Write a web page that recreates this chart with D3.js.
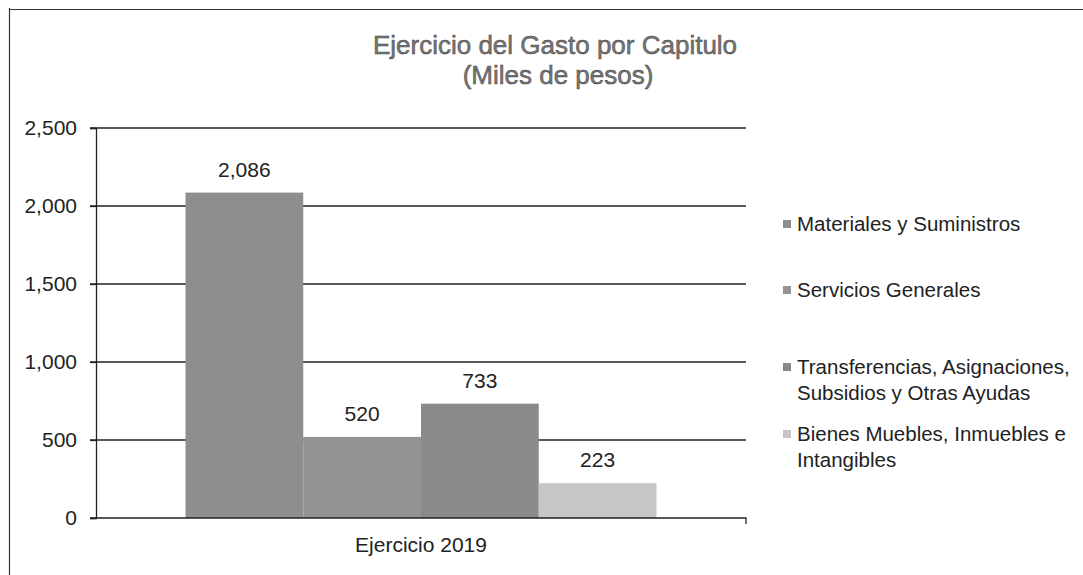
<!DOCTYPE html>
<html>
<head>
<meta charset="utf-8">
<script src="https://cdn.jsdelivr.net/npm/d3@7"></script>
<style>
  body { margin: 0; background: #fff; }
  text { font-family: "Liberation Sans", Arial, sans-serif; }
</style>
</head>
<body>
<svg id="chart" width="1083" height="575"></svg>
<script>
const categories = ["Ejercicio 2019"];
const seriesNames = [
  "Materiales y Suministros",
  "Servicios Generales",
  "Transferencias, Asignaciones, Subsidios y Otras Ayudas",
  "Bienes Muebles, Inmuebles e Intangibles"
];
const seriesValues = [2086, 520, 733, 223];
const legendLines = [
  ["Materiales y Suministros"],
  ["Servicios Generales"],
  ["Transferencias, Asignaciones,", "Subsidios y Otras Ayudas"],
  ["Bienes Muebles, Inmuebles e", "Intangibles"]
];
const yTicks = [0, 500, 1000, 1500, 2000, 2500];
const seriesColors = ["#8e8e8e", "#939393", "#8a8a8a", "#c6c6c6"];

function drawChart() {
  let svg = d3.select("#chart");
  let font = "Liberation Sans, Arial, sans-serif";

  // frame of the scanned page
  svg.append("line").attr("x1", 10).attr("x2", 1083).attr("y1", 9.5).attr("y2", 9.5)
    .style("stroke", "#333").style("stroke-width", 1.2);
  svg.append("line").attr("x1", 9.5).attr("x2", 9.5).attr("y1", 8).attr("y2", 575)
    .style("stroke", "#333").style("stroke-width", 1.2);

  // title
  let title = svg.append("text").attr("text-anchor", "middle")
    .style("font-size", "26px").style("fill", "#777")
    .style("stroke", "#444").style("stroke-width", 0.5);
  title.append("tspan").attr("x", 555).attr("y", 54).text("Ejercicio del Gasto por Capitulo");
  title.append("tspan").attr("x", 558).attr("y", 84).text("(Miles de pesos)");

  let left = 96, right = 746, top = 128, bottom = 518;

  let y = d3.scaleLinear().domain([0, 2500]).range([bottom, top]);
  let x0 = d3.scaleBand().domain(categories).range([left, right])
    .paddingInner(0).paddingOuter(0.19);
  let x1 = d3.scaleBand().domain(seriesNames).range([0, x0.bandwidth()]).padding(0);

  // gridlines
  svg.append("g").selectAll("line").data(yTicks.filter((d) => d > 0)).enter()
    .append("line")
    .attr("x1", left - 6).attr("x2", right)
    .attr("y1", (d) => y(d)).attr("y2", (d) => y(d))
    .style("stroke", "#222").style("stroke-width", 1.3);

  // bars
  let g = svg.append("g").attr("transform", `translate(${x0(categories[0])},0)`);
  g.selectAll("rect").data(seriesValues).enter()
    .append("rect")
    .attr("x", (d, i) => x1(seriesNames[i]))
    .attr("y", (d) => y(d))
    .attr("width", x1.bandwidth())
    .attr("height", (d) => y(0) - y(d))
    .style("fill", (d, i) => seriesColors[i]);

  // data labels
  g.selectAll("text.val").data(seriesValues).enter()
    .append("text")
    .attr("class", "val")
    .attr("x", (d, i) => x1(seriesNames[i]) + x1.bandwidth() / 2)
    .attr("y", (d) => y(d) - 16)
    .attr("text-anchor", "middle")
    .style("font-size", "21px").style("fill", "#222")
    .text((d) => d3.format(",")(d));

  // y axis
  let yAxis = d3.axisLeft(y).tickValues(yTicks).tickFormat(d3.format(",")).tickSize(6).tickPadding(13);
  let ya = svg.append("g").attr("transform", `translate(${left},0)`).call(yAxis);
  ya.select(".domain").style("stroke", "#222").style("stroke-width", 1.3);
  ya.selectAll(".tick line").style("stroke", "#222").style("stroke-width", 1.3);
  ya.selectAll("text").style("font-size", "21px").style("fill", "#222")
    .style("font-family", font);

  // x axis
  let xAxis = d3.axisBottom(x0).tickSize(0).tickPadding(19);
  let xa = svg.append("g").attr("transform", `translate(0,${bottom})`).call(xAxis);
  xa.select(".domain").attr("d", `M${left - 6},0H${right}V6`)
    .style("stroke", "#222").style("stroke-width", 1.3);
  xa.selectAll("text").style("font-size", "21px").style("fill", "#222")
    .style("font-family", font);

  // legend
  let lx = 783;
  let legendY = [231, 297, 374, 441];
  let lg = svg.append("g").selectAll("g").data(legendLines).enter()
    .append("g")
    .attr("transform", (d, i) => `translate(${lx},${legendY[i]})`);
  lg.append("rect").attr("x", 0).attr("y", -11).attr("width", 8).attr("height", 8)
    .style("fill", (d, i) => seriesColors[i]);
  lg.append("text").attr("x", 14).attr("y", 0)
    .style("font-size", "20.5px").style("fill", "#222")
    .selectAll("tspan").data((d) => d).enter()
    .append("tspan").attr("x", 14).attr("dy", (d, i) => (i === 0 ? 0 : 26))
    .text((d) => d);
}

drawChart();
</script>
</body>
</html>
